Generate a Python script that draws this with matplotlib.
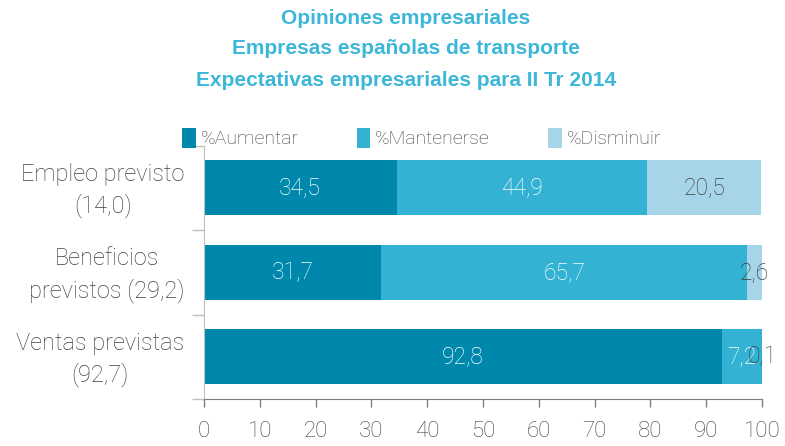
import matplotlib
matplotlib.use("Agg")
import matplotlib.pyplot as plt
import numpy as np

categories = ["Empleo previsto\n(14,0)", "Beneficios\nprevistos (29,2)", "Ventas previstas\n(92,7)"]
series_names = ["%Aumentar", "%Mantenerse", "%Disminuir"]
aumentar = [34.5, 31.7, 92.8]
mantenerse = [44.9, 65.7, 7.2]
disminuir = [20.5, 2.6, 0.1]
label_aumentar = ["34,5", "31,7", "92,8"]
label_mantenerse = ["44,9", "65,7", "7,2"]
label_disminuir = ["20,5", "2,6", "0,1"]
xticks = list(range(0, 101, 10))

colors = ["#0087AC", "#33B2D3", "#A6D4E8"]
text_colors = ["white", "white", "#404040"]
title_color = "#3CB6D9"
grey = "#404040"

plt.rcParams['font.family'] = ['Roboto', 'DejaVu Sans']
plt.rcParams['font.weight'] = 'light'

fig = plt.figure(figsize=(7.85, 4.46), dpi=100)
ax = fig.add_axes([204/785, 1-399/446, 558/785, 253.5/446])

y = np.arange(len(categories))[::-1]
left = np.zeros(len(categories))
all_series = [aumentar, mantenerse, disminuir]
all_labels = [label_aumentar, label_mantenerse, label_disminuir]
handles = []
for vals, labs, c, tc, name in zip(all_series, all_labels, colors, text_colors, series_names):
    vals = np.array(vals)
    h = ax.barh(y, vals, left=left, height=0.65, color=c, label=name)
    handles.append(h)
    for yi, l, v, lab in zip(y, left, vals, labs):
        ax.text(l + v/2, yi, lab, ha='center', va='center', color=tc, fontsize=16.5, fontweight='light')
    left = left + vals

ax.set_xlim(0, 100)
ax.set_ylim(-0.5, 2.5)
ax.set_xticks(xticks)
ax.set_xticklabels([str(t) for t in xticks], fontsize=16, color=grey, fontweight='light')
ax.tick_params(axis='x', direction='out', length=6, width=1, color='#7F7F7F', pad=10)

ax.set_yticks([-0.5, 0.5, 1.5, 2.5])
ax.set_yticklabels([])
ax.tick_params(axis='y', which='major', length=9, color='#BFBFBF', width=1)
ax.set_yticks(y, minor=True)
ax.set_yticklabels(categories, minor=True, fontsize=17, color=grey, multialignment='center',
                   fontweight='light', linespacing=1.4)
ax.tick_params(axis='y', which='minor', length=0, pad=14)
for lbl in ax.get_yticklabels(minor=True):
    lbl.set_transform(lbl.get_transform() + matplotlib.transforms.ScaledTranslation(0, 4/100, fig.dpi_scale_trans))

for s in ['top', 'right']:
    ax.spines[s].set_visible(False)
ax.spines['left'].set_color('#BFBFBF')
ax.spines['bottom'].set_color('#7F7F7F')

title_lines = ["Opiniones empresariales", "Empresas españolas de transporte", "Expectativas empresariales para II Tr 2014"]
for i, t in enumerate(title_lines):
    fig.text(406/785, 1-(18+31*i)/446, t, ha='center', va='center', color=title_color,
             fontsize=15, fontweight='bold', family=['Liberation Sans', 'DejaVu Sans'])

leg = fig.legend(handles=handles, labels=series_names, loc='center left', ncol=3,
                 bbox_to_anchor=(182/785, 1-138/446), frameon=False, fontsize=14,
                 handlelength=0.7, handleheight=1.2, handletextpad=0.25, columnspacing=3.0,
                 borderaxespad=0, borderpad=0)
for t in leg.get_texts():
    t.set_color(grey)

fig.savefig("out.png", dpi=100)
